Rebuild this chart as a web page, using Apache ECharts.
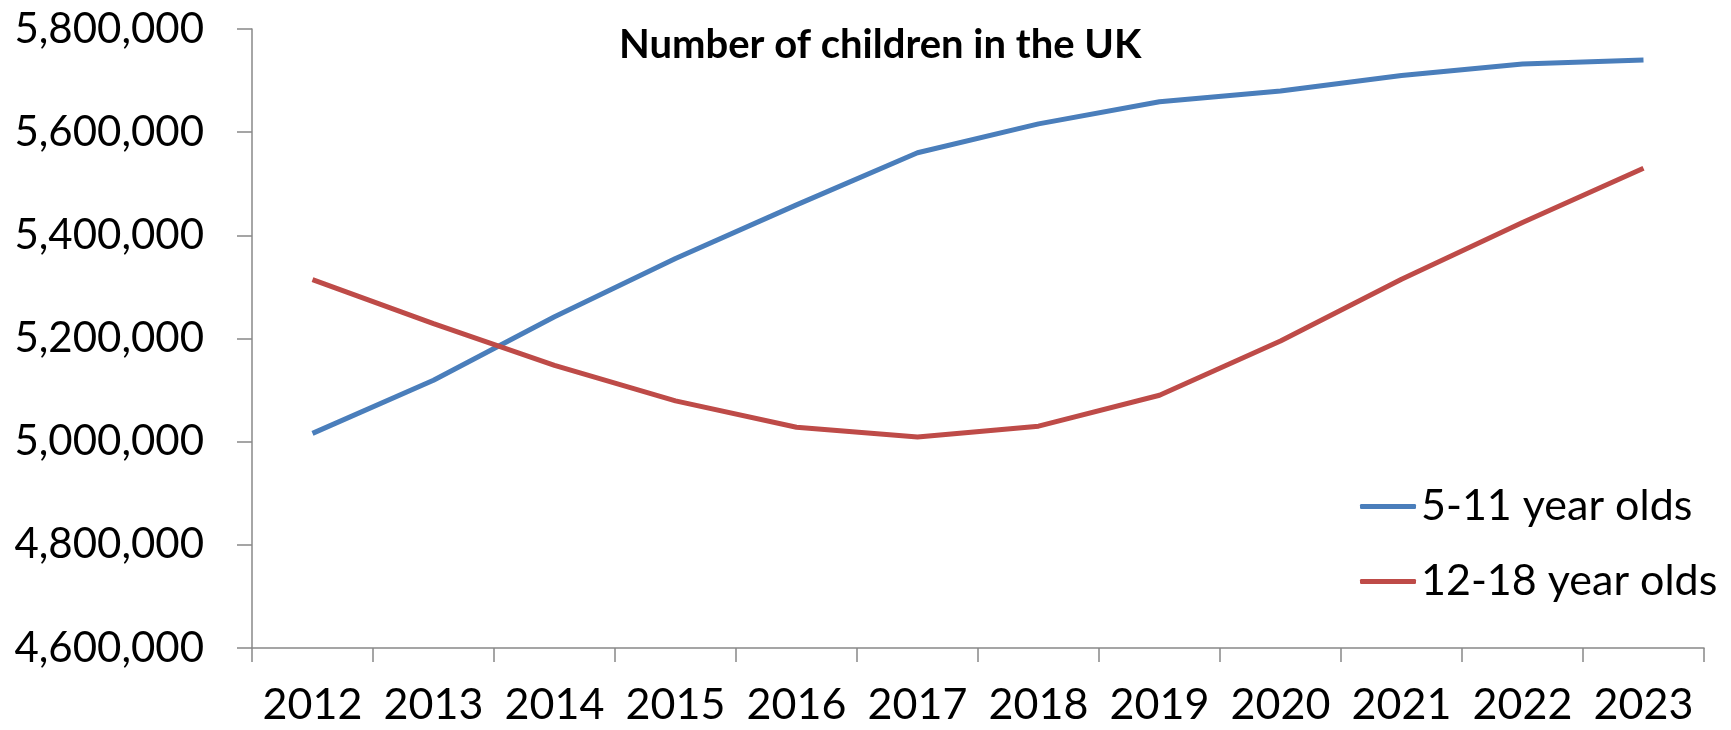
<!DOCTYPE html>
<html>
<head>
<meta charset="utf-8">
<script src="https://cdn.jsdelivr.net/npm/echarts@6/dist/echarts.min.js"></script>
<style>
html,body{margin:0;padding:0;background:#fff;}
#chart{width:1731px;height:730px;}
</style>
</head>
<body>
<div id="chart"></div>
<script>
const years = ['2012','2013','2014','2015','2016','2017','2018','2019','2020','2021','2022','2023'];
const age5to11 = [5016000,5119000,5242000,5355000,5459000,5560000,5616000,5659000,5680000,5710000,5732000,5740000];
const age12to18 = [5314000,5229000,5148000,5079000,5028000,5009000,5030000,5090000,5195000,5315000,5425000,5530000];
const seriesNames = ['5-11 year olds','12-18 year olds'];
const titleText = 'Number of children in the UK';

const FONT = 'Lato';
const chart = echarts.init(document.getElementById('chart'), null, {renderer:'canvas'});
chart.setOption({
  animation:false,
  backgroundColor:'#ffffff',
  title:{
    text:titleText,
    left:614, top:20,
    textStyle:{fontFamily:FONT,fontWeight:'bold',fontSize:40,color:'#000'}
  },
  legend:{
    orient:'vertical',
    left:1355, top:480,
    itemWidth:56, itemHeight:5, itemGap:32,
    icon:'roundRect',
    textStyle:{fontFamily:FONT,fontSize:43,color:'#000'},
    data:seriesNames
  },
  grid:{left:252,right:27,top:29,bottom:82,containLabel:false},
  xAxis:{
    type:'category',
    data:years,
    boundaryGap:true,
    axisLine:{lineStyle:{color:'#888888',width:1.5}},
    axisTick:{show:true,length:14,alignWithLabel:false,lineStyle:{color:'#888888',width:1.5}},
    axisLabel:{fontFamily:FONT,fontSize:43,color:'#000',margin:36,interval:0}
  },
  yAxis:{
    type:'value',
    min:4600000,max:5800000,interval:200000,
    axisLine:{show:true,lineStyle:{color:'#888888',width:1.5}},
    axisTick:{show:true,length:15,lineStyle:{color:'#888888',width:1.5}},
    splitLine:{show:false},
    axisLabel:{fontFamily:FONT,fontSize:42,color:'#000',margin:48,
      formatter:v=>v.toLocaleString('en-US')}
  },
  series:[
    {name:seriesNames[0],type:'line',data:age5to11,symbol:'none',
     lineStyle:{color:'#4A7EBB',width:5},itemStyle:{color:'#4A7EBB'}},
    {name:seriesNames[1],type:'line',data:age12to18,symbol:'none',
     lineStyle:{color:'#BE4B48',width:5},itemStyle:{color:'#BE4B48'}}
  ]
});
</script>
</body>
</html>
